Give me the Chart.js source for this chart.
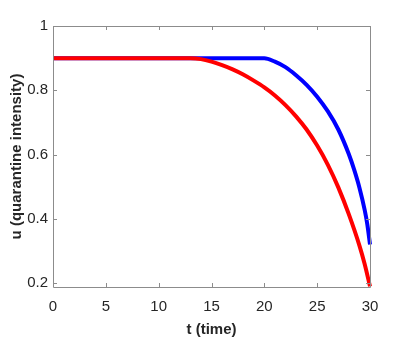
<!DOCTYPE html>
<html>
<head>
<meta charset="utf-8">
<script src="https://cdn.jsdelivr.net/npm/chart.js@4"></script>
<style>
  html, body { margin: 0; padding: 0; background: #fff; }
  #wrap { width: 409px; height: 354px; }
</style>
</head>
<body>
<div id="wrap"><canvas id="chart" width="409" height="354"></canvas></div>
<script>
const tRed = [0, 1, 2, 3, 4, 5, 6, 7, 8, 9, 10, 11, 12, 13, 14, 15, 16, 17, 18, 19, 20, 21, 22, 23, 24, 25, 26, 27, 28, 29, 29.5, 30];
const uRed = [0.9, 0.9, 0.9, 0.9, 0.9, 0.9, 0.9, 0.9, 0.9, 0.9, 0.9, 0.9, 0.9, 0.9, 0.897, 0.889, 0.878, 0.865, 0.849, 0.830, 0.809, 0.784, 0.754, 0.719, 0.678, 0.628, 0.569, 0.498, 0.414, 0.317, 0.259, 0.19];
const tBlue = [0, 1, 2, 3, 4, 5, 6, 7, 8, 9, 10, 11, 12, 13, 14, 15, 16, 17, 18, 19, 20, 21, 22, 23, 24, 25, 26, 27, 28, 28.5, 29, 29.5, 29.75, 30];
const uBlue = [0.9, 0.9, 0.9, 0.9, 0.9, 0.9, 0.9, 0.9, 0.9, 0.9, 0.9, 0.9, 0.9, 0.9, 0.9, 0.9, 0.9, 0.9, 0.9, 0.9, 0.9, 0.889, 0.872, 0.847, 0.817, 0.780, 0.735, 0.678, 0.601, 0.553, 0.497, 0.427, 0.382, 0.32];
const xTicks = [0, 5, 10, 15, 20, 25, 30];
const yTicks = [0.2, 0.4, 0.6, 0.8, 1];

const axisColor = '#8c8c8c';
const textColor = '#262626';
const tickFont = { family: 'Liberation Sans, Arial, sans-serif', size: 15 };
const titleFont = { family: 'Liberation Sans, Arial, sans-serif', size: 15, weight: 'bold' };

// MATLAB style box with inward ticks
const boxTicks = {
    id: 'boxTicks',
    afterDraw(chart) {
        const ctx = chart.ctx;
        const a = chart.chartArea;
        const xs = chart.scales.x, ys = chart.scales.y;
        ctx.save();
        ctx.strokeStyle = axisColor;
        ctx.lineWidth = 1;
        ctx.beginPath();
        ctx.rect(a.left + 0.5, a.top + 0.5, a.right - a.left, a.bottom - a.top);
        xTicks.forEach(v => {
            const px = Math.round(xs.getPixelForValue(v)) + 0.5;
            ctx.moveTo(px, a.bottom); ctx.lineTo(px, a.bottom - 4);
            ctx.moveTo(px, a.top); ctx.lineTo(px, a.top + 4);
        });
        yTicks.forEach(v => {
            const py = Math.round(ys.getPixelForValue(v)) + 0.5;
            ctx.moveTo(a.left, py); ctx.lineTo(a.left + 4, py);
            ctx.moveTo(a.right, py); ctx.lineTo(a.right - 4, py);
        });
        ctx.stroke();
        ctx.restore();
    }
};

new Chart(document.getElementById('chart'), {
    type: 'line',
    data: {
        datasets: [
            {
                data: tRed.map((t, i) => ({ x: t, y: uRed[i] })),
                borderColor: '#ff0000',
                borderWidth: 4,
                pointRadius: 0,
                cubicInterpolationMode: 'monotone',
                fill: false
            },
            {
                data: tBlue.map((t, i) => ({ x: t, y: uBlue[i] })),
                borderColor: '#0000ff',
                borderWidth: 4,
                pointRadius: 0,
                cubicInterpolationMode: 'monotone',
                fill: false
            }
        ]
    },
    options: {
        responsive: false,
        animation: false,
        clip: false,
        layout: { padding: { left: 8, right: 39, top: 26, bottom: 11 } },
        plugins: { legend: { display: false }, tooltip: { enabled: false } },
        scales: {
            x: {
                type: 'linear',
                min: 0,
                max: 30,
                afterBuildTicks: s => { s.ticks = xTicks.map(v => ({ value: v })); },
                afterFit: s => { s.height = 56; },
                grid: { display: false, drawTicks: false },
                border: { display: false },
                ticks: { color: textColor, font: tickFont, padding: 11, maxRotation: 0 },
                title: { display: true, text: 't (time)', color: textColor, font: titleFont, padding: { top: 2 } }
            },
            y: {
                type: 'linear',
                min: 0.188,
                max: 1,
                afterBuildTicks: s => { s.ticks = yTicks.map(v => ({ value: v })); },
                afterFit: s => { s.width = 45; },
                grid: { display: false, drawTicks: false },
                border: { display: false },
                ticks: { color: textColor, font: tickFont, padding: 5, callback: v => String(v) },
                title: { display: true, text: 'u (quarantine intensity)', color: textColor, font: titleFont, padding: { top: 0, bottom: 0 } }
            }
        }
    },
    plugins: [boxTicks]
});
</script>
</body>
</html>
